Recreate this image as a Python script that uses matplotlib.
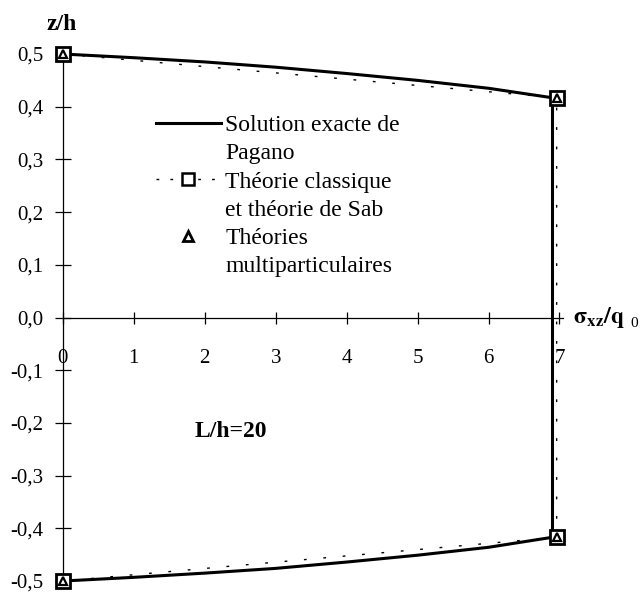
import matplotlib
matplotlib.use("Agg")
import matplotlib.pyplot as plt
from matplotlib.lines import Line2D
from matplotlib.ticker import FuncFormatter

plt.rcParams['font.family'] = ['Liberation Serif', 'DejaVu Serif']
plt.rcParams['mathtext.fontset'] = 'stix'

# Pagano exact solution (upper and lower face, then the jump at the right)
x_exact_top = [0.0, 1.0, 2.0, 3.0, 4.0, 5.0, 6.0, 6.9]
z_exact_top = [0.500, 0.493, 0.485, 0.475, 0.463, 0.450, 0.435, 0.417]
x_exact_bot = [0.0, 1.0, 2.0, 3.0, 4.0, 5.0, 6.0, 6.9]
z_exact_bot = [-0.500, -0.493, -0.485, -0.476, -0.464, -0.451, -0.436, -0.417]

# classical / Sab theory: straight segments through four points
x_classic = [0.0, 6.96, 6.96, 0.0]
z_classic = [0.500, 0.417, -0.417, -0.500]

# multiparticle theories
x_multi = [0.0, 6.96, 6.96, 0.0]
z_multi = [0.500, 0.417, -0.417, -0.500]

xticks = [0, 1, 2, 3, 4, 5, 6, 7]
yticks = [-0.5, -0.4, -0.3, -0.2, -0.1, 0.0, 0.1, 0.2, 0.3, 0.4, 0.5]

fig = plt.figure(figsize=(6.42, 5.93), dpi=100)
ax = fig.add_axes([0.098, 0.0202, 0.779, 0.8887])
ax.set_xlim(0, 7.05)
ax.set_ylim(-0.5, 0.5)

# solid exact curve
ax.plot(x_exact_top, z_exact_top, color='k', lw=2.2, solid_capstyle='butt', clip_on=False, zorder=3)
ax.plot(x_exact_bot, z_exact_bot, color='k', lw=2.2, solid_capstyle='butt', clip_on=False, zorder=3)
ax.plot([x_exact_top[-1], x_exact_bot[-1]], [z_exact_top[-1], z_exact_bot[-1]],
        color='k', lw=2.2, clip_on=False, zorder=3)

dots = (0, (2, 12))
ax.plot(x_classic, z_classic, color='k', lw=1.0, linestyle=dots, clip_on=False, zorder=2)
ax.plot(x_classic, z_classic, linestyle='none', marker='s', ms=9.5, mfc='white', mec='k',
        mew=2.0, clip_on=False, zorder=4)
ax.plot(x_multi, z_multi, linestyle='none', marker='^', ms=5.5, mfc='white', mec='k',
        mew=1.6, clip_on=False, zorder=5)

# axes crossing at the origin
for side in ('top', 'right'):
    ax.spines[side].set_visible(False)
ax.spines['left'].set_position(('data', 0))
ax.spines['bottom'].set_position(('data', 0))
ax.spines['left'].set_linewidth(0.9)
ax.spines['bottom'].set_linewidth(0.9)

ax.set_xticks(xticks)
ax.set_yticks(yticks)
ax.yaxis.set_major_formatter(FuncFormatter(lambda v, p: f"{v:.1f}".replace('.', ',')))
ax.xaxis.set_major_formatter(FuncFormatter(lambda v, p: f"{int(v)}"))
ax.tick_params(axis='y', direction='inout', length=11, width=0.9, pad=8.5, labelsize=15)
ax.tick_params(axis='x', direction='inout', length=9, width=0.9, pad=18, labelsize=15)

fig.text(62 / 642, 1 - 24 / 593, 'z/h', fontsize=17, fontweight='bold', ha='center', va='center')
ax.text(7.19, 0.0, r'$\mathbf{\sigma_{xz}/q}$', fontsize=17, ha='left', va='center')
ax.text(8.0, -0.012, '0', fontsize=11, ha='left', va='center')
ax.text(1.86, -0.217, 'L/h=20', fontsize=17, fontweight='bold', ha='left', va='center')

# legend: each label's second line gets an empty handle so the symbol sits on the first line
blank = Line2D([], [], linestyle='none')
handles = [
    Line2D([], [], color='k', lw=2.2), blank,
    Line2D([], [], color='k', lw=1.0, linestyle=(0, (2, 8)), marker='s', ms=8,
           mfc='white', mec='k', mew=1.8), blank,
    Line2D([], [], linestyle='none', marker='^', ms=7, mfc='white', mec='k', mew=2.0), blank,
]
labels = ['Solution exacte de', 'Pagano',
          'Théorie classique', 'et théorie de Sab',
          'Théories', 'multiparticulaires']
leg = ax.legend(handles, labels, loc='upper left', bbox_to_anchor=(144 / 642, 1 - 103 / 593),
                bbox_transform=fig.transFigure, frameon=False, fontsize=17,
                handlelength=2.75, handletextpad=0.2, labelspacing=0.28, borderpad=0)

fig.savefig('out.png', dpi=100)
